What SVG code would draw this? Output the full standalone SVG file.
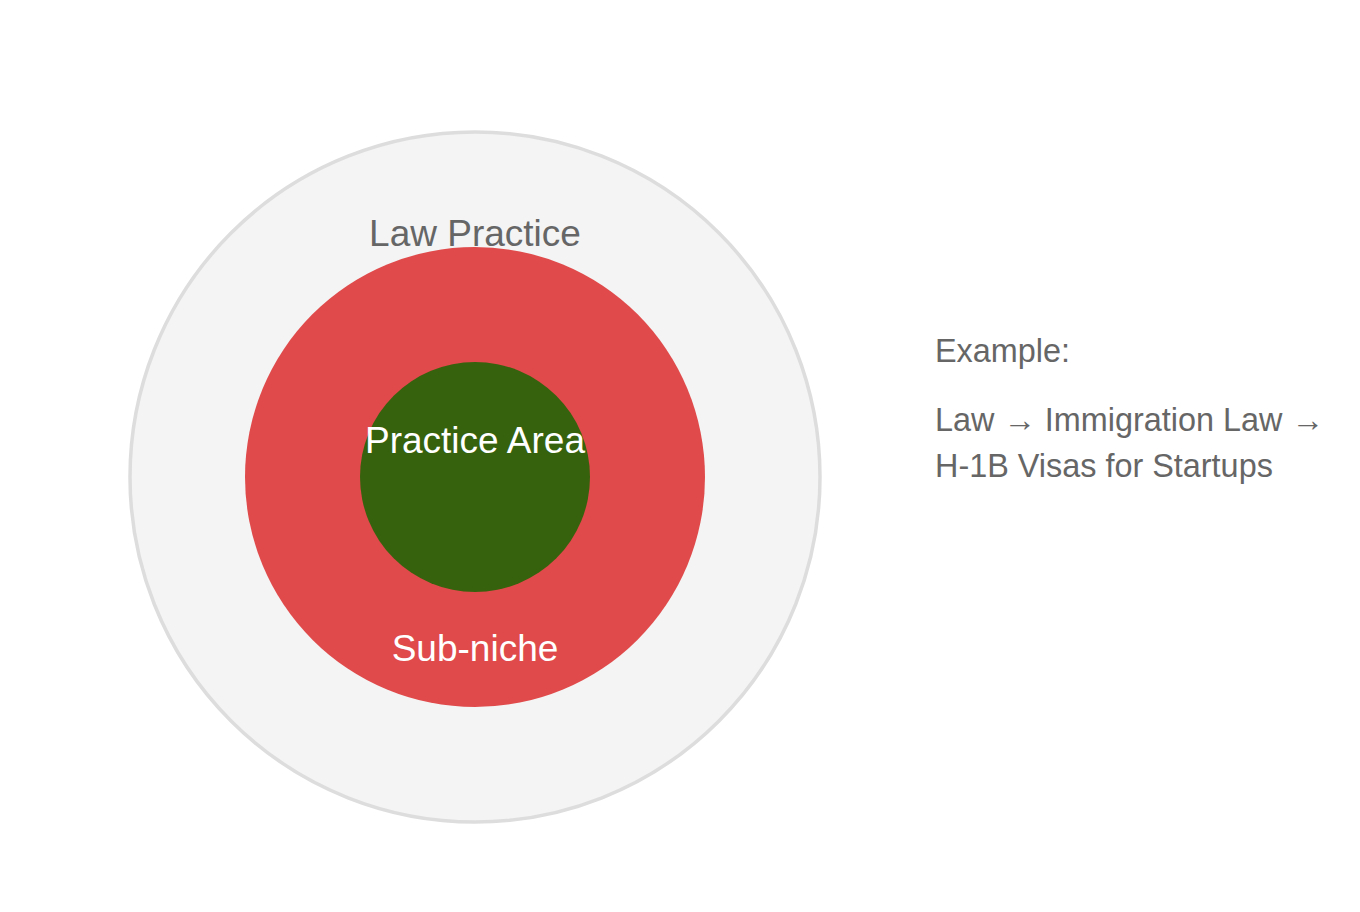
<svg xmlns="http://www.w3.org/2000/svg" width="1360" height="912" viewBox="0 0 1360 912">
<style>
.t{font-family:"Liberation Sans",Arial,Helvetica,sans-serif;text-anchor:middle;font-size:37px}
.w{fill:#ffffff}
.g{fill:#666666}
.ex{font-family:"Liberation Sans",Arial,Helvetica,sans-serif;fill:#666666;font-size:32.4px}
</style>
<rect width="1360" height="912" fill="#ffffff"/>
<g id="law-practice">
<circle cx="475" cy="477" r="345" fill="#f4f4f4" stroke="#dddddd" stroke-width="3.5"/>
<text class="t g" x="475" y="246">Law Practice</text>
</g>
<g id="sub-niche">
<circle cx="475" cy="477" r="230" fill="#e04a4a"/>
<text class="t w" x="475" y="661">Sub-niche</text>
</g>
<g id="practice-area">
<circle cx="475" cy="477" r="115" fill="#36620e"/>
<text class="t w" x="475" y="453">Practice Area</text>
</g>
<g id="connectors"></g>
<g id="example">
<text class="ex" x="935" y="362">Example:</text>
<text class="ex" x="935" y="431">Law → Immigration Law →</text>
<text class="ex" x="935" y="477">H-1B Visas for Startups</text>
</g>
</svg>
